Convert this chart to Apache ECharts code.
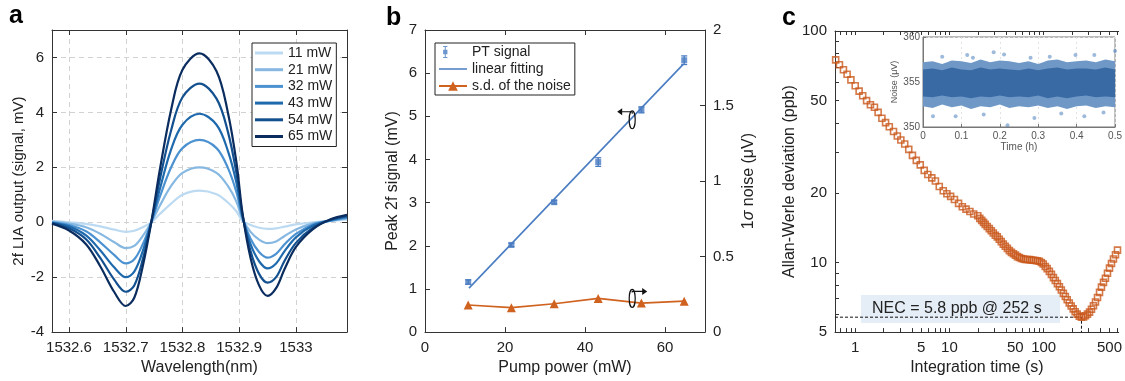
<!DOCTYPE html>
<html><head><meta charset="utf-8">
<script src="https://cdn.jsdelivr.net/npm/echarts@6/dist/echarts.min.js"></script>
<style>html,body{margin:0;padding:0;background:#fff}#c{width:1125px;height:381px}</style>
</head><body><div id="c"></div>
<script>
// ---------- Panel a: 2f LIA output vs wavelength ----------
const wavelength = [1532.57, 1532.60, 1532.63, 1532.655, 1532.68, 1532.70, 1532.715, 1532.73, 1532.745, 1532.76, 1532.78, 1532.80, 1532.83, 1532.86, 1532.88, 1532.895, 1532.906, 1532.92, 1532.935, 1532.95, 1532.965, 1532.98, 1533.00, 1533.03, 1533.06, 1533.09];
const sig11 = [0.05, 0.0, -0.06, -0.15, -0.27, -0.35, -0.31, -0.18, 0.0, 0.3, 0.68, 1.0, 1.15, 1.02, 0.72, 0.4, 0.05, -0.1, -0.2, -0.24, -0.22, -0.16, -0.08, 0.0, 0.05, 0.1];
const sig21 = [0.02, -0.05, -0.18, -0.42, -0.73, -0.94, -0.86, -0.5, 0.0, 0.6, 1.32, 1.8, 2.0, 1.8, 1.32, 0.75, 0.1, -0.35, -0.63, -0.76, -0.7, -0.5, -0.26, -0.04, 0.05, 0.14];
const sig32 = [0.0, -0.1, -0.33, -0.73, -1.2, -1.5, -1.35, -0.8, 0.0, 0.92, 2.0, 2.7, 3.0, 2.7, 1.98, 1.1, 0.15, -0.6, -1.08, -1.29, -1.15, -0.8, -0.42, -0.08, 0.06, 0.17];
const sig43 = [-0.02, -0.15, -0.48, -1.02, -1.65, -2.0, -1.8, -1.05, 0.0, 1.2, 2.65, 3.55, 3.95, 3.55, 2.6, 1.45, 0.2, -0.8, -1.42, -1.68, -1.5, -1.05, -0.55, -0.12, 0.07, 0.2];
const sig54 = [-0.03, -0.22, -0.62, -1.3, -2.1, -2.53, -2.3, -1.35, 0.0, 1.55, 3.35, 4.55, 5.05, 4.5, 3.3, 1.8, 0.25, -1.05, -1.88, -2.2, -2.0, -1.4, -0.75, -0.2, 0.08, 0.24];
const sig65 = [-0.05, -0.3, -0.8, -1.6, -2.55, -3.05, -2.75, -1.6, 0.0, 1.9, 4.1, 5.55, 6.15, 5.5, 4.0, 2.2, 0.3, -1.3, -2.3, -2.68, -2.4, -1.7, -0.9, -0.25, 0.1, 0.27];
const powerNames = ['11 mW', '21 mW', '32 mW', '43 mW', '54 mW', '65 mW'];
const waveTicks = [1532.6, 1532.7, 1532.8, 1532.9, 1533.0];

// ---------- Panel b: peak signal & noise vs pump power ----------
const pumpPower = [10.8, 21.6, 32.3, 43.3, 54.1, 64.8];
const ptSignal = [1.16, 2.02, 3.01, 3.94, 5.15, 6.30];
const ptError = [0.05, 0.04, 0.04, 0.10, 0.07, 0.10];
const fitPower = [11.0, 64.6];
const fitSignal = [1.02, 6.21];
const noiseSd = [0.179, 0.162, 0.188, 0.223, 0.192, 0.205];

// ---------- Panel c: Allan-Werle deviation ----------
const tau = [0.62, 0.68, 0.75, 0.82, 0.9, 1.0, 1.1, 1.2, 1.32, 1.45, 1.6, 1.75, 1.92, 2.1, 2.3, 2.55, 2.8, 3.05, 3.35, 3.7, 4.05, 4.45, 4.9, 5.4, 5.9, 6.5, 7.1, 7.8, 8.6, 9.4, 10.3, 11.3, 12.5, 13.7, 15, 16.5, 18.1,
  20, 21, 22, 23, 24, 25.2, 26.5, 27.8, 29.2, 30.7, 32.2, 33.8, 35.5, 37.3, 39.2, 41.2, 43.3, 45.5, 47.8, 50.2, 52.7, 55.3, 58, 61, 64, 67, 70.5, 74, 77.7, 81.6, 85.7, 90, 94.5, 99,
  104, 109, 115, 121, 127, 133, 140, 147, 154, 162, 170, 178, 187, 196, 206, 216, 227, 239, 252, 265, 278, 292, 307, 322, 338, 355, 373, 392, 411, 432, 453, 476, 500, 525, 551, 579, 608, 638, 670];
const allan = [75, 71.5, 68, 65, 61.5, 58, 55, 52.5, 50, 48, 46.8, 44.5, 42, 40.2, 38.6, 36.8, 35.2, 33.8, 32.5, 30.8, 29, 27.6, 26.4, 25.0, 24.0, 23.2, 22.5, 21.3, 20.4, 19.8, 19.3, 18.7, 18.0, 17.4, 17.0, 16.6, 16.2,
  15.9, 15.5, 15.2, 14.9, 14.6, 14.3, 14.0, 13.7, 13.4, 13.1, 12.9, 12.6, 12.3, 12.0, 11.75, 11.5, 11.25, 11.05, 10.9, 10.75, 10.6, 10.5, 10.4, 10.35, 10.3, 10.3, 10.28, 10.25, 10.22, 10.2, 10.17, 10.12, 10.0, 9.85,
  9.6, 9.4, 9.15, 8.88, 8.6, 8.35, 8.1, 7.85, 7.6, 7.35, 7.12, 6.9, 6.68, 6.48, 6.3, 6.12, 5.98, 5.86, 5.8, 5.82, 5.88, 5.98, 6.1, 6.28, 6.5, 6.75, 7.05, 7.42, 7.82, 8.2, 8.55, 8.98, 9.45, 9.9, 10.35, 10.8, 11.3, 11.8, 12.3];
const necTau = 252, necValue = 5.8;
const tauTicks = [1, 5, 10, 50, 100, 500];
const tauMinor = [0.7, 0.8, 0.9, 1, 2, 3, 4, 5, 6, 7, 8, 9, 10, 20, 30, 40, 50, 60, 70, 80, 90, 100, 200, 300, 400, 500, 600];
const adevTicks = [5, 10, 20, 50, 100];
const adevMinor = [5, 6, 7, 8, 9, 10, 20, 30, 40, 50, 60, 70, 80, 90, 100];

// ---------- Inset: noise vs time ----------
const insetTime = [0, 0.025, 0.05, 0.075, 0.1, 0.125, 0.15, 0.175, 0.2, 0.225, 0.25, 0.275, 0.3, 0.325, 0.35, 0.375, 0.4, 0.425, 0.45, 0.475, 0.5];
const insetUpper = [357.2, 357.3, 357.0, 357.4, 357.3, 357.1, 357.5, 357.2, 357.4, 357.3, 357.1, 357.3, 357.0, 357.4, 357.5, 357.2, 357.3, 357.4, 357.2, 357.5, 357.3];
const insetLower = [352.3, 352.1, 352.5, 352.2, 352.4, 352.0, 352.3, 352.2, 352.5, 352.1, 352.3, 352.2, 352.4, 352.1, 352.3, 352.0, 352.3, 352.4, 352.1, 352.3, 352.2];
const insetCoreUpper = [356.4, 356.5, 356.3, 356.6, 356.4, 356.3, 356.6, 356.4, 356.5, 356.4, 356.3, 356.5, 356.3, 356.5, 356.6, 356.4, 356.5, 356.5, 356.4, 356.6, 356.4];
const insetCoreLower = [353.4, 353.3, 353.5, 353.3, 353.4, 353.2, 353.4, 353.3, 353.5, 353.3, 353.4, 353.3, 353.5, 353.2, 353.4, 353.2, 353.4, 353.5, 353.3, 353.4, 353.3];
const outlierTime = [0.115, 0.184, 0.211, 0.397, 0.446, 0.5, 0.22, 0.29, 0.026, 0.42, 0.085, 0.158, 0.33, 0.05, 0.28, 0.36, 0.47, 0.13];
const outlierNoise = [358.0, 358.3, 358.05, 358.0, 358.0, 358.45, 350.2, 351.0, 351.2, 351.2, 351.2, 351.4, 357.8, 357.8, 357.7, 351.5, 351.6, 357.7];

// ---------- styling ----------
const FONT = "'Liberation Sans', Arial, sans-serif";
const INK = '#222';
const blues = ['#bcdaf1', '#86b8e2', '#4c92d1', '#1f6aad', '#12508f', '#0a2c5e'];
const blueB = '#4a7cc2';
const orangeB = '#d0621f';
const orangeC = '#c9581c';
const sigSets = [sig11, sig21, sig32, sig43, sig54, sig65];

function axLine() { return { show: true, onZero: false, lineStyle: { color: '#333', width: 1 } }; }
function tick(extra) { return Object.assign({ show: true, inside: true, length: 5, lineStyle: { color: '#333' } }, extra || {}); }
const lbl = (extra) => Object.assign({ fontSize: 15, color: INK, fontFamily: FONT }, extra || {});
const nameStyle = { fontSize: 16, color: INK, fontFamily: FONT };

const xAxes = [
  { gridIndex: 0, type: 'value', position: 'bottom', min: 1532.57, max: 1533.09,
    axisLine: axLine(), axisTick: tick({ customValues: waveTicks }),
    axisLabel: lbl({ customValues: waveTicks, margin: 8, formatter: v => String(Math.round(v * 10) / 10) }),
    splitLine: { show: true, lineStyle: { type: [5, 4], color: '#d2d2d2' } },
    name: 'Wavelength(nm)', nameLocation: 'middle', nameGap: 24, nameTextStyle: nameStyle },
  { gridIndex: 0, type: 'value', position: 'top', min: 1532.57, max: 1533.09,
    axisLine: axLine(), axisTick: tick({ customValues: waveTicks }), axisLabel: { show: false }, splitLine: { show: false } },
  { gridIndex: 1, type: 'value', position: 'bottom', min: 0, max: 70, interval: 20,
    axisLine: axLine(), axisTick: tick(),
    axisLabel: lbl({ margin: 8, formatter: v => (v === 70 ? '' : String(v)) }),
    splitLine: { show: false },
    name: 'Pump power (mW)', nameLocation: 'middle', nameGap: 24, nameTextStyle: nameStyle },
  { gridIndex: 1, type: 'value', position: 'top', min: 0, max: 70, interval: 20,
    axisLine: axLine(), axisTick: tick(), axisLabel: { show: false }, splitLine: { show: false } },
  { gridIndex: 2, type: 'log', logBase: 10, position: 'bottom', min: 0.61, max: 626,
    axisLine: axLine(), axisTick: tick({ customValues: tauMinor, length: 4 }),
    axisLabel: lbl({ customValues: tauTicks, margin: 8 }),
    splitLine: { show: false }, minorTick: { show: false },
    name: 'Integration time (s)', nameLocation: 'middle', nameGap: 24, nameTextStyle: nameStyle },
  { gridIndex: 2, type: 'log', logBase: 10, position: 'top', min: 0.61, max: 626,
    axisLine: axLine(), axisTick: tick({ customValues: tauMinor, length: 4 }), axisLabel: { show: false }, splitLine: { show: false } },
  { gridIndex: 3, type: 'value', position: 'bottom', min: 0, max: 0.5, interval: 0.1,
    axisLine: { show: true, onZero: false, lineStyle: { color: '#777' } }, axisTick: tick({ length: 3, lineStyle: { color: '#777' } }),
    axisLabel: { fontSize: 10, color: '#555', margin: 4, fontFamily: FONT, formatter: v => String(Math.round(v * 10) / 10) },
    splitLine: { show: true, lineStyle: { type: [2, 3], color: '#e2e2e2' } },
    name: 'Time (h)', nameLocation: 'middle', nameGap: 14, nameTextStyle: { fontSize: 10, color: '#555', fontFamily: FONT } }
];

const yAxes = [
  { gridIndex: 0, type: 'value', position: 'left', min: -4, max: 7, interval: 2,
    axisLine: axLine(), axisTick: tick(),
    axisLabel: lbl({ margin: 8, formatter: v => (v === 7 ? '' : String(v)) }),
    splitLine: { show: true, lineStyle: { type: [5, 4], color: '#d2d2d2' } },
    name: '2f LIA output (signal, mV)', nameLocation: 'middle', nameGap: 26, nameTextStyle: { fontSize: 15, color: INK, fontFamily: FONT } },
  { gridIndex: 0, type: 'value', position: 'right', min: -4, max: 7, interval: 2,
    axisLine: axLine(), axisTick: tick(), axisLabel: { show: false }, splitLine: { show: false } },
  { gridIndex: 1, type: 'value', position: 'left', min: 0, max: 7, interval: 1,
    axisLine: axLine(), axisTick: tick(), axisLabel: lbl({ margin: 8 }), splitLine: { show: false },
    name: 'Peak 2f signal (mV)', nameLocation: 'middle', nameGap: 24, nameTextStyle: nameStyle },
  { gridIndex: 1, type: 'value', position: 'right', min: 0, max: 2, interval: 0.5,
    axisLine: axLine(), axisTick: tick(), axisLabel: lbl({ margin: 8 }), splitLine: { show: false },
    name: '1{i|σ} noise (μV)', nameLocation: 'middle', nameGap: 36,
    nameTextStyle: Object.assign({}, nameStyle, { rich: { i: { fontStyle: 'italic', fontSize: 16, fontFamily: FONT, color: INK } } }) },
  { gridIndex: 2, type: 'log', logBase: 10, position: 'left', min: 5, max: 100,
    axisLine: axLine(), axisTick: tick({ customValues: adevMinor, length: 4 }),
    axisLabel: lbl({ customValues: adevTicks, margin: 8 }), splitLine: { show: false }, minorTick: { show: false },
    name: 'Allan-Werle deviation (ppb)', nameLocation: 'middle', nameGap: 33, nameTextStyle: nameStyle },
  { gridIndex: 3, type: 'value', position: 'left', min: 350, max: 360, interval: 5,
    axisLine: { show: true, onZero: false, lineStyle: { color: '#777' } }, axisTick: tick({ length: 3, lineStyle: { color: '#777' } }),
    axisLabel: { fontSize: 10, color: '#555', margin: 3, fontFamily: FONT },
    splitLine: { show: true, lineStyle: { type: [2, 3], color: '#e2e2e2' } },
    name: 'Noise (μV)', nameLocation: 'middle', nameGap: 22, nameTextStyle: { fontSize: 9, color: '#555', fontFamily: FONT } }
];

const series = [];
sigSets.forEach((arr, k) => {
  series.push({
    name: powerNames[k], type: 'line', xAxisIndex: 0, yAxisIndex: 0, smooth: 0.35, symbol: 'none',
    lineStyle: { color: blues[k], width: 2.2 }, itemStyle: { color: blues[k] },
    data: wavelength.map((w, i) => [w, arr[i]]), z: 2 + k
  });
});
series.push({
  name: 'linear fitting', type: 'line', xAxisIndex: 2, yAxisIndex: 2, symbol: 'none',
  lineStyle: { color: blueB, width: 1.6 }, itemStyle: { color: blueB },
  data: fitPower.map((p, i) => [p, fitSignal[i]])
});
series.push({
  name: 'PT signal err', type: 'custom', xAxisIndex: 2, yAxisIndex: 2,
  data: pumpPower.map((p, i) => [p, ptSignal[i], ptError[i]]),
  renderItem: (params, api) => {
    const x = api.value(0), y = api.value(1), e = api.value(2);
    const top = api.coord([x, y + e]), bot = api.coord([x, y - e]);
    const s = { stroke: blueB, lineWidth: 1.3 };
    return { type: 'group', children: [
      { type: 'line', shape: { x1: top[0], y1: top[1], x2: bot[0], y2: bot[1] }, style: s },
      { type: 'line', shape: { x1: top[0] - 3, y1: top[1], x2: top[0] + 3, y2: top[1] }, style: s },
      { type: 'line', shape: { x1: bot[0] - 3, y1: bot[1], x2: bot[0] + 3, y2: bot[1] }, style: s }
    ] };
  }, z: 4
});
series.push({
  name: 'PT signal', type: 'scatter', xAxisIndex: 2, yAxisIndex: 2, symbol: 'rect', symbolSize: 6,
  itemStyle: { color: blueB }, data: pumpPower.map((p, i) => [p, ptSignal[i]]), z: 5
});
series.push({
  name: 's.d. of the noise', type: 'line', xAxisIndex: 2, yAxisIndex: 3, symbol: 'triangle', symbolSize: 9,
  lineStyle: { color: orangeB, width: 1.6 }, itemStyle: { color: orangeB },
  data: pumpPower.map((p, i) => [p, noiseSd[i]])
});
series.push({
  name: 'NEC guide', type: 'line', xAxisIndex: 4, yAxisIndex: 4, symbol: 'none', silent: true,
  lineStyle: { color: '#111', width: 1, type: [3, 2] },
  data: [[0.61, necValue], [necTau, necValue], [necTau, 5]], z: 1
});
series.push({
  name: 'Allan', type: 'scatter', xAxisIndex: 4, yAxisIndex: 4, symbol: 'rect', symbolSize: 6,
  itemStyle: { color: 'rgba(255,255,255,0)', borderColor: orangeC, borderWidth: 1.6 },
  data: tau.map((t, i) => [t, allan[i]]), z: 3
});
function bandSeries(name, up, lo, color, z) {
  return {
    name: name, type: 'custom', xAxisIndex: 6, yAxisIndex: 5, silent: true, z: z,
    data: insetTime.map((t, i) => [t, up[i], lo[i]]),
    renderItem: (params, api) => {
      if (params.dataIndex !== 0) return null;
      const pts = [];
      insetTime.forEach((t, i) => pts.push(api.coord([t, up[i]])));
      for (let i = insetTime.length - 1; i >= 0; i--) pts.push(api.coord([insetTime[i], lo[i]]));
      return { type: 'polygon', shape: { points: pts }, style: { fill: color } };
    }
  };
}
series.push(bandSeries('band outer', insetUpper, insetLower, '#6f98c7', 12));
series.push(bandSeries('band core', insetCoreUpper, insetCoreLower, '#3a6aa4', 13));
series.push({
  name: 'outliers', type: 'scatter', xAxisIndex: 6, yAxisIndex: 5, symbol: 'circle', symbolSize: 4,
  itemStyle: { color: 'rgba(80,130,190,0.7)' }, data: outlierTime.map((t, i) => [t, outlierNoise[i]]), z: 14
});

const errIcon = 'path://M0,0h0.01v0.01h-0.01z M28,14h-0.01v-0.01h0.01z M4.4,0h1.2v14h-1.2z M2.5,0h5v1.2h-5z M2.5,12.8h5v1.2h-5z M2.5,4.5h5v5h-5z';
const lineIcon = 'path://M0,0h0.01v0.01h-0.01z M28,12h-0.01v-0.01h0.01z M0,5.3h28v1.4h-28z';

const option = {
  animation: false,
  backgroundColor: '#fff',
  textStyle: { fontFamily: FONT },
  grid: [
    { left: 52, top: 30, width: 295, height: 310, show: false },
    { left: 425, top: 30, width: 280, height: 308, show: false },
    { left: 835, top: 31, width: 290, height: 310, show: false },
    { left: 923, top: 37, width: 196, height: 90, show: true, backgroundColor: '#fff', borderColor: '#777', borderWidth: 1 }
  ],
  xAxis: xAxes,
  yAxis: yAxes,
  legend: [
    { left: 252, top: 43, orient: 'vertical', itemWidth: 28, itemHeight: 3, itemGap: 2.7, padding: [3, 4, 3, 3],
      borderColor: '#222', borderWidth: 1, backgroundColor: '#fff', selectedMode: false,
      textStyle: { fontSize: 14, color: INK, fontFamily: FONT, lineHeight: 14 },
      data: powerNames.map(n => ({ name: n, icon: 'rect' })) },
    { left: 435, top: 43, orient: 'vertical', itemWidth: 28, itemHeight: 12, itemGap: 3, padding: [2, 4, 2, 3],
      borderColor: '#222', borderWidth: 1, backgroundColor: '#fff', selectedMode: false,
      textStyle: { fontSize: 14, color: INK, fontFamily: FONT, lineHeight: 14 },
      data: [{ name: 'PT signal', icon: errIcon }, { name: 'linear fitting', icon: lineIcon }, 's.d. of the noise'] }
  ],
  series: series
};

const chart = echarts.init(document.getElementById('c'), null, { renderer: 'canvas' });
chart.setOption(option);

const p1 = chart.convertToPixel({ xAxisIndex: 2, yAxisIndex: 2 }, [51.8, 4.92]);
const p2 = chart.convertToPixel({ xAxisIndex: 2, yAxisIndex: 3 }, [51.8, 0.223]);
const ink = { stroke: '#111', lineWidth: 1.2, fill: null };
chart.setOption({
  graphic: [
    { type: 'text', left: 9, top: 4, style: { text: 'a', font: 'bold 25px ' + FONT, fill: '#000' } },
    { type: 'text', left: 386, top: 6, style: { text: 'b', font: 'bold 25px ' + FONT, fill: '#000' } },
    { type: 'text', left: 782, top: 6, style: { text: 'c', font: 'bold 25px ' + FONT, fill: '#000' } },
    { type: 'ellipse', shape: { cx: p1[0], cy: p1[1], rx: 3, ry: 9 }, style: ink, z: 20 },
    { type: 'polyline', shape: { points: [[p1[0], p1[1] - 6], [p1[0], p1[1] - 8], [p1[0] - 11, p1[1] - 8]] }, style: ink, z: 20 },
    { type: 'polygon', shape: { points: [[p1[0] - 15, p1[1] - 8], [p1[0] - 10, p1[1] - 11.5], [p1[0] - 10, p1[1] - 4.5]] }, style: { fill: '#111' }, z: 20 },
    { type: 'ellipse', shape: { cx: p2[0], cy: p2[1], rx: 3, ry: 9 }, style: ink, z: 20 },
    { type: 'polyline', shape: { points: [[p2[0], p2[1] - 6], [p2[0], p2[1] - 7], [p2[0] + 11, p2[1] - 7]] }, style: ink, z: 20 },
    { type: 'polygon', shape: { points: [[p2[0] + 15, p2[1] - 7], [p2[0] + 10, p2[1] - 10.5], [p2[0] + 10, p2[1] - 3.5]] }, style: { fill: '#111' }, z: 20 },
    { type: 'group', left: 861, top: 295, z: 5, children: [
      { type: 'rect', shape: { x: 0, y: 0, width: 199, height: 28 }, style: { fill: '#e5edf6' } },
      { type: 'text', x: 11, y: 6, style: { text: 'NEC = 5.8 ppb @ 252 s', font: '16px ' + FONT, fill: INK } }
    ] }
  ]
});
</script></body></html>
